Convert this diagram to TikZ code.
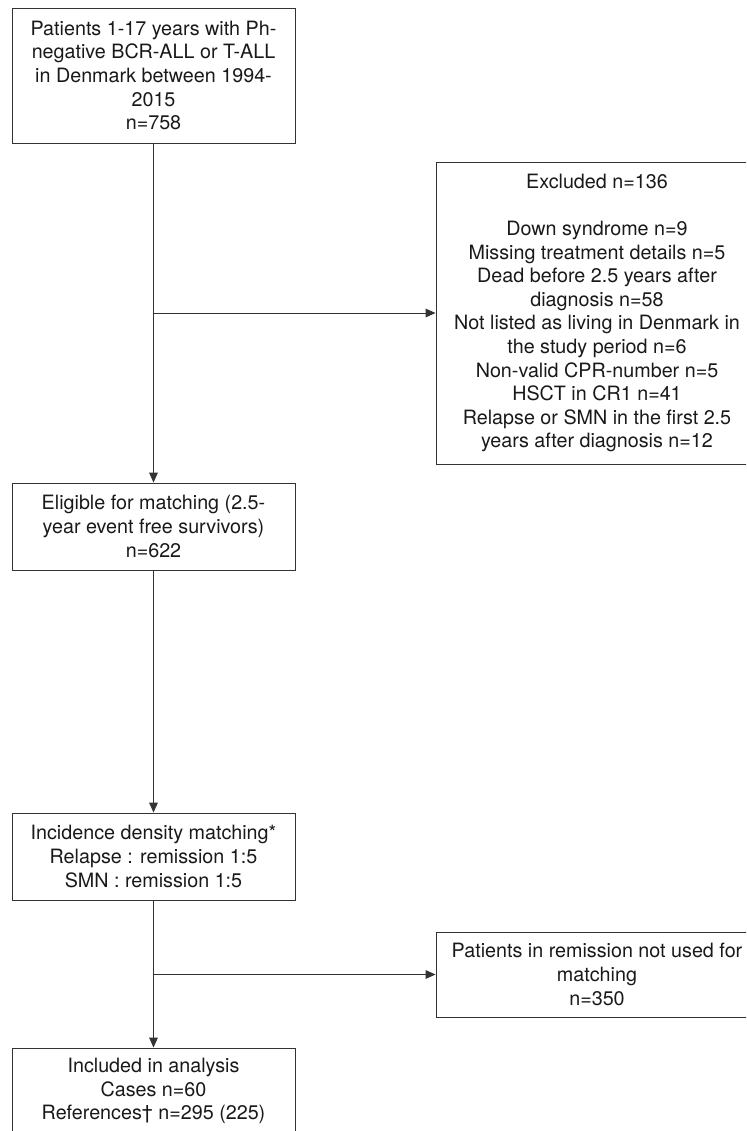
\documentclass[tikz,border=0pt]{standalone}
\usepackage{fontspec}
\setmainfont{TeX Gyre Heros}
\usetikzlibrary{positioning,calc,arrows.meta}

\begin{document}
\begin{tikzpicture}[x=0.75pt,y=-0.75pt,
    box/.style={draw=black!80, line width=0.7pt, align=center, inner sep=0pt,
        font=\fontsize{14.8}{17.7}\selectfont, text=black!90},
    arr/.style={draw=black!80, line width=0.7pt, -{Triangle[length=7.5pt,width=6.5pt]}}]
    \clip (0,0) rectangle (746,1131);
    \node[box, minimum width=212.25pt, minimum height=101.25pt] (pop) at (153.5,75.5)
        {Patients 1-17 years with Ph-\\negative BCR-ALL or T-ALL\\in Denmark between 1994-\\2015\\n=758};
    \node[box, minimum width=241.5pt, minimum height=226.5pt] (excl) at (597,313)
        {Excluded n=136\\[17.7pt]Down syndrome n=9\\Missing treatment details n=5\\Dead before 2.5 years after\\diagnosis n=58\\Not listed as living in Denmark in\\the study period n=6\\Non-valid CPR-number n=5\\HSCT in CR1 n=41\\Relapse or SMN in the first 2.5\\years after diagnosis n=12};
    \node[box, minimum width=212.25pt, minimum height=65.25pt] (elig) at (153.5,526.5)
        {Eligible for matching (2.5-\\year event free survivors)\\n=622};
    \node[box, minimum width=212.25pt, minimum height=65.25pt] (match) at (153.5,856.5)
        {Incidence density matching*\\Relapse : remission 1:5\\SMN : remission 1:5};
    \node[box, minimum width=241.5pt, minimum height=63.75pt] (rem) at (597,974.5)
        {Patients in remission not used for\\matching\\n=350};
    \node[box, minimum width=212.25pt, minimum height=64.5pt] (incl) at (153.5,1091)
        {Included in analysis\\Cases n=60\\References† n=295 (225)};
    \coordinate (b1) at (pop.south |- excl.west);
    \coordinate (b2) at (match.south |- rem.west);
    \draw[arr] (pop) -- (elig);
    \draw[arr] (b1) -- (excl);
    \draw[arr] (elig) -- (match);
    \draw[arr] (match) -- (incl);
    \draw[arr] (b2) -- (rem);
\end{tikzpicture}
\end{document}
